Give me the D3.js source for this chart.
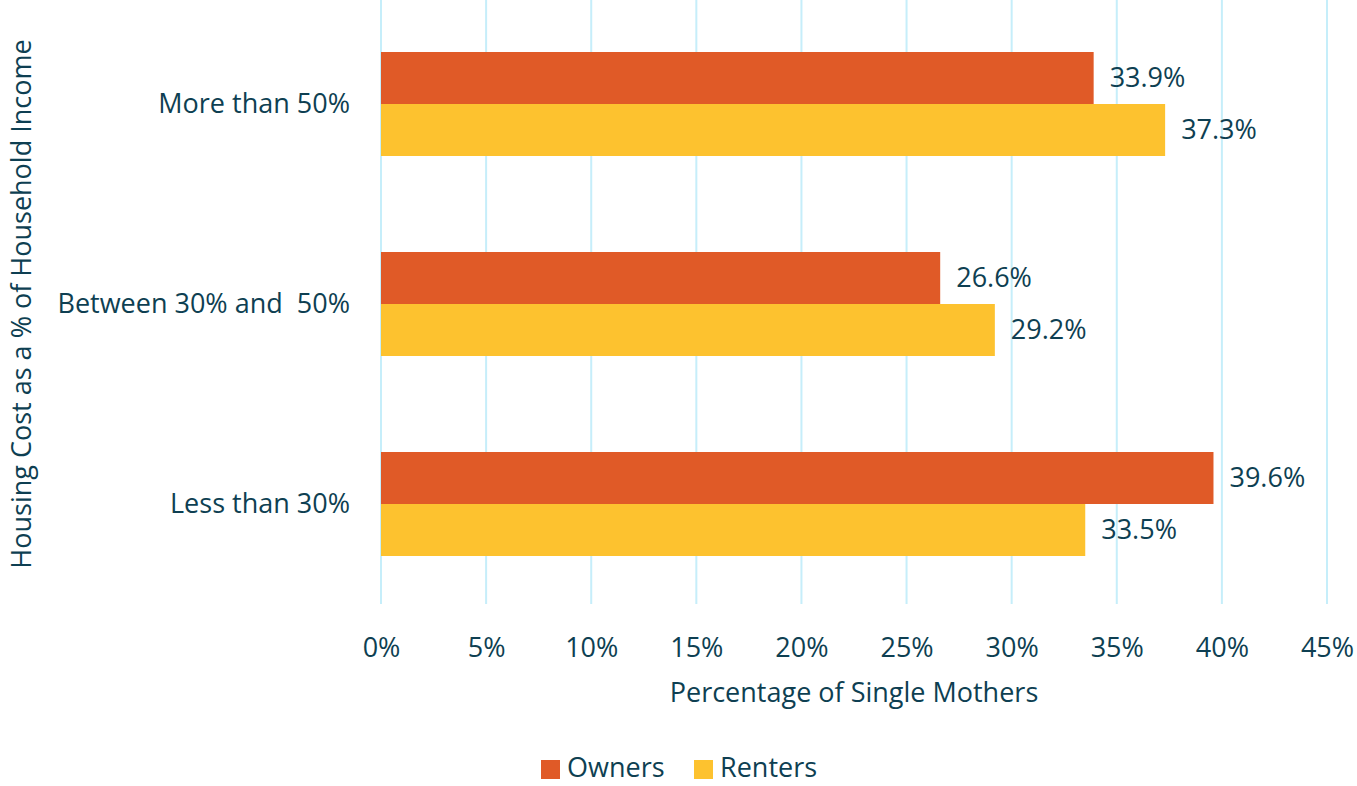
<!DOCTYPE html>
<html>
<head>
<meta charset="utf-8">
<script src="https://cdn.jsdelivr.net/npm/d3@7"></script>
<style>
  body { margin: 0; background: #fff; }
  svg text { font-family: "Open Sans", sans-serif; fill: #0e3f52; }
</style>
</head>
<body>
<svg id="chart"></svg>
<script>
// data
const categories = ["More than 50%", "Between 30% and  50%", "Less than 30%"];
const seriesNames = ["Owners", "Renters"];
const owners = [33.9, 26.6, 39.6];
const renters = [37.3, 29.2, 33.5];
const xTicks = [0, 5, 10, 15, 20, 25, 30, 35, 40, 45];
const colors = ["#e05a27", "#fdc22f"];

const width = 1357, height = 786;
const margin = {top: 4, right: 30, bottom: 182, left: 381};
const innerW = 946, innerH = height - margin.top - margin.bottom;
const fs = "27px";

const svg = d3.select("#chart")
  .attr("width", width)
  .attr("height", height);

const g = svg.append("g")
  .attr("transform", "translate(" + margin.left + "," + margin.top + ")");

const x = d3.scaleLinear().domain([0, 45]).range([0, innerW]);
const y = d3.scaleBand().domain(categories).range([0, innerH]).paddingInner(0.48).paddingOuter(0.24);
const ySub = d3.scaleBand().domain(seriesNames).range([0, y.bandwidth()]);

// gridlines
g.append("g")
  .selectAll("line")
  .data(xTicks)
  .join("line")
    .attr("x1", d => x(d))
    .attr("x2", d => x(d))
    .attr("y1", -margin.top)
    .attr("y2", innerH)
    .attr("stroke", "#c6eefa")
    .attr("stroke-width", 2);

// x axis labels
const xAxis = g.append("g")
  .attr("transform", "translate(0," + innerH + ")")
  .call(d3.axisBottom(x).tickValues(xTicks).tickFormat(d => d + "%").tickSize(0).tickPadding(34));
xAxis.select(".domain").remove();
xAxis.selectAll("text").style("font-size", fs).attr("fill", "#0e3f52");

// y axis labels
const yAxis = g.append("g")
  .call(d3.axisLeft(y).tickSize(0).tickPadding(31));
yAxis.select(".domain").remove();
yAxis.selectAll("text").style("font-size", fs).attr("fill", "#0e3f52").style("white-space", "pre");

const rows = categories.map((c, i) => ({cat: c, vals: [owners[i], renters[i]]}));

const groups = g.selectAll(".grp")
  .data(rows)
  .join("g")
    .attr("class", "grp")
    .attr("transform", d => "translate(0," + y(d.cat) + ")");

groups.selectAll("rect")
  .data(d => d.vals.map((v, j) => ({name: seriesNames[j], v: v, j: j})))
  .join("rect")
    .attr("x", x(0))
    .attr("y", d => ySub(d.name))
    .attr("width", d => x(d.v) - x(0))
    .attr("height", ySub.bandwidth())
    .attr("fill", d => colors[d.j]);

groups.selectAll(".lbl")
  .data(d => d.vals.map((v, j) => ({name: seriesNames[j], v: v})))
  .join("text")
    .attr("class", "lbl")
    .attr("x", d => x(d.v) + 16)
    .attr("y", d => ySub(d.name) + ySub.bandwidth() / 2)
    .attr("dy", "0.35em")
    .style("font-size", fs)
    .text(d => d.v.toFixed(1) + "%");

// axis titles
svg.append("text")
  .attr("x", margin.left + innerW / 2)
  .attr("y", 693)
  .attr("dy", "0.35em")
  .attr("text-anchor", "middle")
  .style("font-size", fs)
  .text("Percentage of Single Mothers");

svg.append("text")
  .attr("transform", "translate(22," + (margin.top + innerH / 2) + ") rotate(-90)")
  .attr("dy", "0.35em")
  .attr("text-anchor", "middle")
  .style("font-size", fs)
  .text("Housing Cost as a % of Household Income");

// legend
const legend = svg.append("g").attr("transform", "translate(541,760)");
const items = legend.selectAll("g")
  .data(seriesNames)
  .join("g")
    .attr("transform", (d, i) => "translate(" + (i * 153) + ",0)");
items.append("rect")
  .attr("width", 19).attr("height", 19)
  .attr("fill", (d, i) => colors[i]);
items.append("text")
  .attr("x", 26).attr("y", 17)
  .style("font-size", fs)
  .text(d => d);
</script>
</body>
</html>
